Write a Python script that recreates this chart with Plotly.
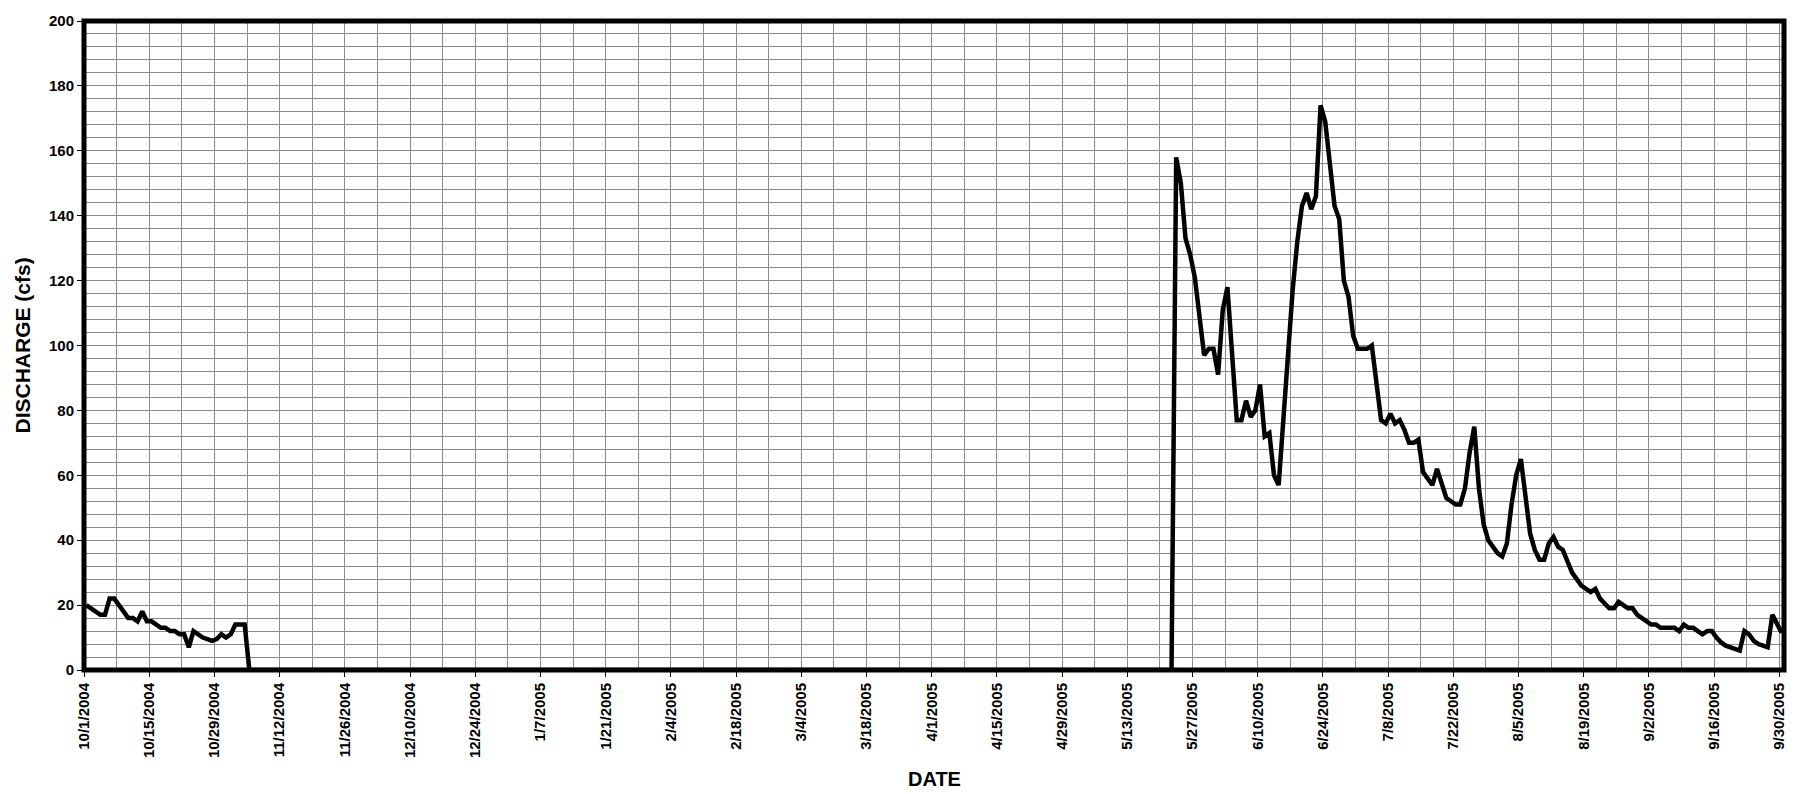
import pandas as pd
import plotly.graph_objects as go

# Daily mean discharge (cfs), water year Oct 1 2004 - Sep 30 2005
flow_oct_2004 = [20, 19, 18, 17, 17, 22, 22, 20, 18, 16,
                 16, 15, 18, 15, 15, 14, 13, 13, 12, 12,
                 11, 11, 7, 12, 11, 10, 9.5, 9, 9.5, 11,
                 10]
flow_nov_2004_start = [11, 14, 14, 14]
zero_flow_days = 199  # Nov 5 2004 - May 22 2005 plotted at 0
flow_may_2005_end = [158, 150, 133, 128, 121, 109, 97, 99, 99]
flow_jun_2005 = [91, 111, 118, 97, 77, 77, 83, 78, 80, 88,
                 72, 73, 60, 57, 77, 99, 117, 132, 143, 147,
                 142, 146, 174, 169, 156, 143, 139, 120, 115, 103]
flow_jul_2005 = [99, 99, 99, 100, 88, 77, 76, 79, 76, 77,
                 74, 70, 70, 71, 61, 59, 57, 62, 57, 53,
                 52, 51, 51, 56, 67, 75, 56, 45, 40, 38,
                 36]
flow_aug_2005 = [35, 39, 51, 60, 65, 52, 42, 37, 34, 34,
                 39, 41, 38, 37, 33, 30, 28, 26, 25, 24,
                 25, 22, 20.5, 19, 19, 21, 20, 19, 19, 17,
                 16]
flow_sep_2005 = [15, 14, 14, 13, 13, 13, 13, 12, 14, 13,
                 13, 12, 11, 12, 12, 10, 8.5, 7.5, 7, 6.5,
                 6, 12, 11, 9, 8, 7.5, 7, 17, 14.5, 11.5]

discharge = (flow_oct_2004 + flow_nov_2004_start + [0.0] * zero_flow_days
             + flow_may_2005_end + flow_jun_2005 + flow_jul_2005
             + flow_aug_2005 + flow_sep_2005)

# each daily value sits in the middle of its day slot (Excel date axis)
dates = pd.date_range("2004-10-01 12:00", periods=len(discharge), freq="D")
tick_dates = pd.date_range("2004-10-01", "2005-09-30", freq="14D")
tick_text = [f"{d.month}/{d.day}/{d.year}" for d in tick_dates]

FONT = "Arial, Liberation Sans, sans-serif"
GRID = "#8a8a8a"

fig = go.Figure()
fig.add_trace(go.Scatter(
    x=dates, y=discharge, mode="lines",
    line=dict(color="black", width=4.5),
    hoverinfo="x+y", showlegend=False,
))

DAY_MS = 86400000
fig.update_xaxes(
    type="date",
    range=["2004-10-01", "2005-10-01"],
    tickmode="array", tickvals=tick_dates, ticktext=tick_text,
    tickangle=-90,
    tickfont=dict(family=FONT, size=15, color="black", weight="bold"),
    ticks="outside", ticklen=6, tickwidth=1, tickcolor="black",
    showgrid=True, gridcolor=GRID, gridwidth=1,
    minor=dict(tick0="2004-10-01", dtick=7 * DAY_MS, showgrid=True,
               gridcolor=GRID, gridwidth=1, ticks=""),
    showline=False, zeroline=False,
)
fig.update_yaxes(
    range=[0, 200], tick0=0, dtick=20,
    tickfont=dict(family=FONT, size=15, color="black", weight="bold"),
    ticks="outside", ticklen=6, tickwidth=1, tickcolor="black",
    showgrid=True, gridcolor=GRID, gridwidth=1,
    minor=dict(dtick=4, showgrid=True, gridcolor=GRID, gridwidth=1, ticks=""),
    showline=False, zeroline=False,
)

fig.add_shape(type="rect", xref="paper", yref="paper", x0=0, x1=1, y0=0, y1=1,
              line=dict(color="black", width=5), layer="above")

fig.add_annotation(text="DATE", xref="paper", yref="paper", x=0.5, y=-0.168,
                   xanchor="center", yanchor="middle", showarrow=False,
                   font=dict(family=FONT, size=20, color="black", weight="bold"))
fig.add_annotation(text="DISCHARGE (cfs)", xref="paper", yref="paper",
                   x=-0.0359, y=0.5, textangle=-90,
                   xanchor="center", yanchor="middle", showarrow=False,
                   font=dict(family=FONT, size=21, color="black", weight="bold"))

fig.update_layout(
    width=1805, height=794,
    margin=dict(l=84, r=21, t=16, b=124),
    paper_bgcolor="white", plot_bgcolor="white",
    font=dict(family=FONT, color="black"),
)

fig.write_html(
    "out.html",
    config={"displayModeBar": False},
    post_script="document.body.style.margin='0';document.body.style.overflow='hidden';",
)
